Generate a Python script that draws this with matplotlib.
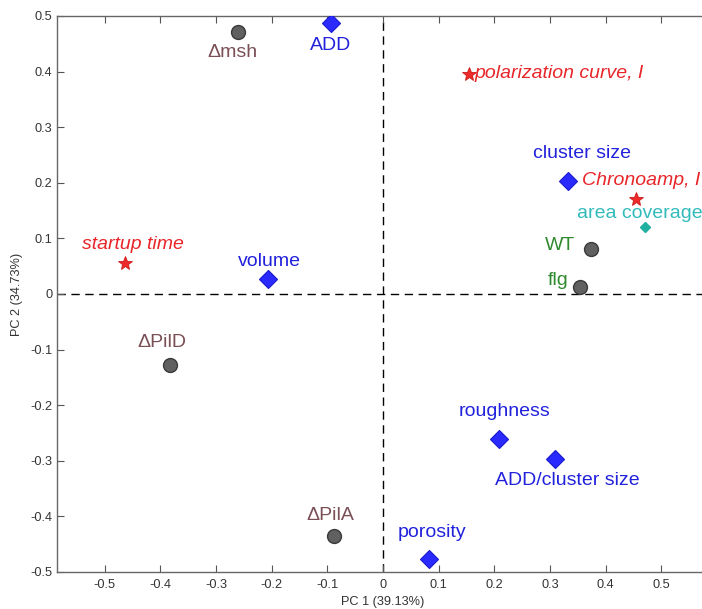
import matplotlib
matplotlib.use("Agg")
import matplotlib.pyplot as plt

plt.rcParams['font.family'] = ['Liberation Sans', 'DejaVu Sans']

# Scores / loadings on the first two principal components
names = ["Δmsh", "ADD", "polarization curve, I", "cluster size", "Chronoamp, I",
         "area coverage", "WT", "flg", "startup time", "volume", "ΔPilD", "ΔPilA",
         "porosity", "roughness", "ADD/cluster size"]
pc1 = [-0.261, -0.094, 0.155, 0.333, 0.455, 0.471, 0.374, 0.354, -0.464, -0.207,
       -0.383, -0.088, 0.083, 0.209, 0.309]
pc2 = [0.471, 0.487, 0.396, 0.203, 0.171, 0.120, 0.081, 0.013, 0.056, 0.027,
       -0.128, -0.435, -0.477, -0.261, -0.297]
groups = ["strain", "morph", "perf", "morph", "perf", "cover", "strain", "strain",
          "perf", "morph", "strain", "strain", "morph", "morph", "morph"]

# label colours for the strain points
strain_label_colors = {"Δmsh": "#7a4f55", "ΔPilD": "#7a4f55", "ΔPilA": "#7a4f55",
                       "WT": "#2f8a2f", "flg": "#2f8a2f"}

# label offsets in pixels relative to each marker
label_offsets = {
    "Δmsh": (-5, -20, "center"), "ADD": (0, -22, "center"),
    "polarization curve, I": (5, 0, "left"), "cluster size": (14, 28, "center"),
    "Chronoamp, I": (5, 18, "center"), "area coverage": (-5, 14, "center"),
    "WT": (-31, 3, "center"), "flg": (-22, 6, "center"),
    "startup time": (8, 18, "center"), "volume": (2, 17, "center"),
    "ΔPilD": (-8, 23, "center"), "ΔPilA": (-4, 20, "center"),
    "porosity": (3, 27, "center"), "roughness": (5, 28, "center"),
    "ADD/cluster size": (12, -21, "center"),
}

fig = plt.figure(figsize=(7.02, 6.09), dpi=100)
ax = fig.add_axes([57 / 702, 37 / 609, 652 / 702, 556 / 609])
ax.set_xlim(-0.586, 0.586)
ax.set_ylim(-0.5, 0.5)

ax.axhline(0, color="black", ls=(0, (6, 4)), lw=1.0, zorder=1)
ax.axvline(0, color="black", ls=(0, (6, 4)), lw=1.0, zorder=1)

for n, x, y, g in zip(names, pc1, pc2, groups):
    if g == "strain":
        ax.plot(x, y, "o", ms=10, mfc="#606060", mec="#3a3a3a", mew=1.0, zorder=3)
        col, style = strain_label_colors[n], "normal"
    elif g == "morph":
        ax.plot(x, y, marker=(4, 0, 0), ms=13, mfc="#2a2aff", mec="#1a1ad0",
                mew=0.8, ls="none", zorder=3)
        col, style = "#2222dd", "normal"
    elif g == "perf":
        ax.plot(x, y, "*", ms=10.5, mfc="#ee2a2a", mec="#cc1a1a", mew=0.6, zorder=3)
        col, style = "#e8262a", "italic"
    else:
        ax.plot(x, y, "D", ms=5, mfc="#20b0a0", mec="#20b0a0", zorder=3)
        col, style = "#33bbbb", "normal"
    dx, dy, ha = label_offsets[n]
    ax.annotate(n, (x, y), xytext=(dx, dy), textcoords="offset pixels",
                ha=ha, va="center", color=col, fontstyle=style, fontsize=14, zorder=4)

ticks = [-0.5, -0.4, -0.3, -0.2, -0.1, 0, 0.1, 0.2, 0.3, 0.4, 0.5]
tick_labels = ["-0.5", "-0.4", "-0.3", "-0.2", "-0.1", "0", "0.1", "0.2", "0.3", "0.4", "0.5"]
ax.set_xticks(ticks)
ax.set_xticklabels(tick_labels)
ax.set_yticks(ticks)
ax.set_yticklabels(tick_labels)
ax.tick_params(direction="in", length=5, width=0.8, color="#555555",
               labelcolor="#333333", labelsize=9.2, top=True, right=True)
ax.tick_params(axis="x", pad=5)
for s in ax.spines.values():
    s.set_color("#666666")
    s.set_linewidth(1.0)

ax.set_xlabel("PC 1 (39.13%)", fontsize=9.2, color="#333333", labelpad=4)
ax.set_ylabel("PC 2 (34.73%)", fontsize=9.2, color="#333333", labelpad=5)

fig.savefig("out.png", dpi=100)
